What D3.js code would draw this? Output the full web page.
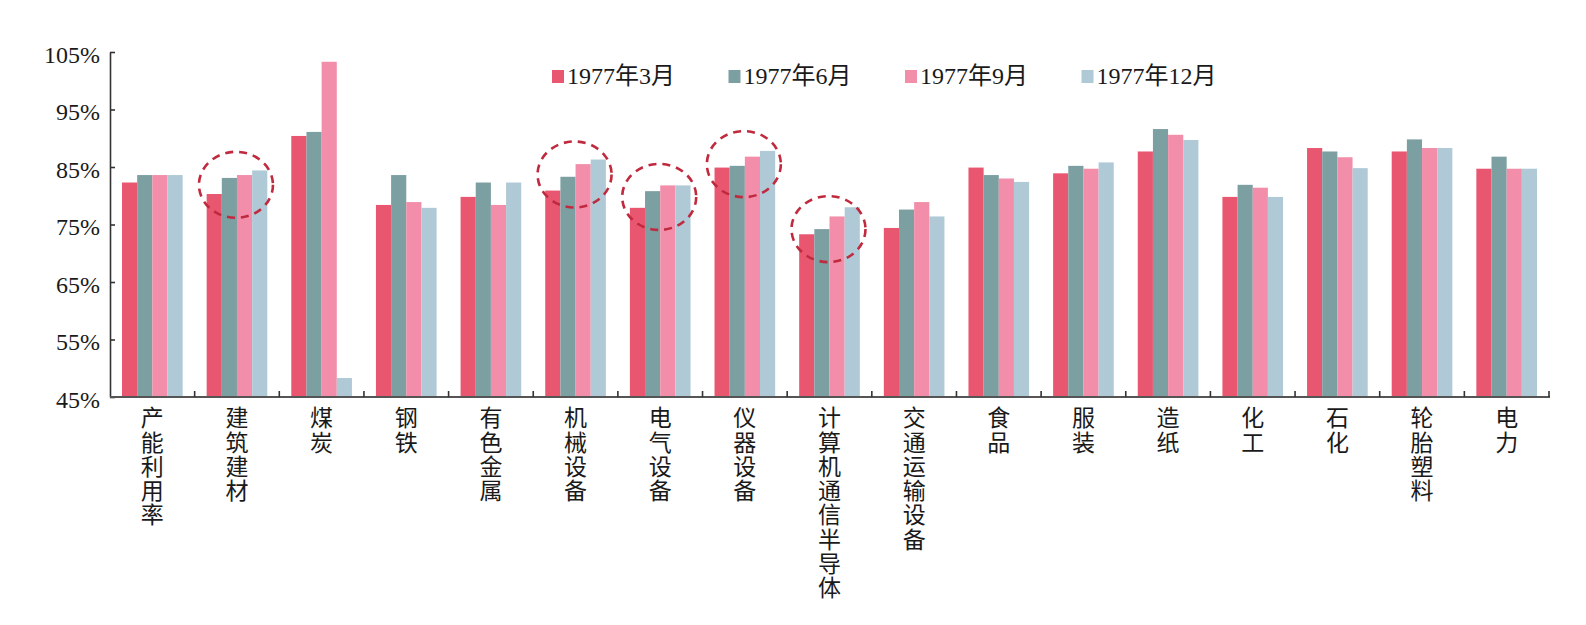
<!DOCTYPE html>
<html>
<head>
<meta charset="utf-8">
<script src="https://cdn.jsdelivr.net/npm/d3@7"></script>
<style>
  body { margin: 0; background: #fff; }
  text { font-family: "Liberation Serif", "Noto Sans CJK SC", serif; fill: #1a1a1a; }
</style>
</head>
<body>
<script>
// categories along the x axis
const categories = ["产能利用率", "建筑建材", "煤炭", "钢铁", "有色金属", "机械设备", "电气设备",
  "仪器设备", "计算机通信半导体", "交通运输设备", "食品", "服装", "造纸", "化工", "石化", "轮胎塑料", "电力"];

const seriesNames = ["1977年3月", "1977年6月", "1977年9月", "1977年12月"];
const seriesColors = ["#e9566f", "#7c9fa2", "#f28ea9", "#b0c9d7"];

// values (%)
const mar77 = [82.3, 80.3, 90.4, 78.4, 79.8, 80.9, 77.9, 84.9, 73.3, 74.4, 84.9, 83.9, 87.7, 79.8, 88.3, 87.7, 84.7];
const jun77 = [83.6, 83.1, 91.1, 83.6, 82.3, 83.3, 80.8, 85.2, 74.2, 77.6, 83.6, 85.2, 91.6, 81.9, 87.7, 89.8, 86.8];
const sep77 = [83.6, 83.6, 103.3, 78.9, 78.4, 85.5, 81.8, 86.8, 76.4, 78.9, 83.0, 84.7, 90.6, 81.4, 86.7, 88.3, 84.7];
const dec77 = [83.6, 84.4, 48.3, 77.9, 82.3, 86.3, 81.8, 87.8, 78.0, 76.4, 82.4, 85.8, 89.7, 79.8, 84.8, 88.3, 84.7];

const yTicks = [45, 55, 65, 75, 85, 95, 105];

// dashed ellipses: category and the value at their centre
const markedCats = ["建筑建材", "机械设备", "电气设备", "仪器设备", "计算机通信半导体"];
const markedCentres = [81.9, 83.7, 79.8, 85.5, 74.2];

const allSeries = [mar77, jun77, sep77, dec77];

const svg = d3.select("body").append("svg")
  .attr("width", 1586)
  .attr("height", 625);

const x = d3.scaleBand().domain(categories).range([110, 1549]);
const x1 = d3.scaleBand().domain(seriesNames).range([12, x.bandwidth() - 12]);
const y = d3.scaleLinear().domain([45, 105]).range([397, 52]);

// bars
const groups = svg.append("g").selectAll("g")
  .data(categories)
  .join("g")
  .attr("transform", d => `translate(${x(d)},0)`);

groups.selectAll("rect")
  .data((c, i) => seriesNames.map((s, k) => ({ s, k, v: allSeries[k][i] })))
  .join("rect")
  .attr("x", d => x1(d.s))
  .attr("width", x1.bandwidth())
  .attr("y", d => y(d.v))
  .attr("height", d => y(45) - y(d.v))
  .attr("fill", d => seriesColors[d.k]);

// y axis
const yAxis = svg.append("g")
  .attr("transform", "translate(110,0)")
  .call(d3.axisLeft(y).tickValues(yTicks).tickFormat(d => d + "%").tickSize(-5).tickSizeOuter(0).tickPadding(10));
yAxis.select(".domain").attr("stroke", "#333").attr("stroke-width", 1.6);
yAxis.selectAll(".tick line").attr("stroke", "#333").attr("stroke-width", 1.6);
yAxis.selectAll("text")
  .attr("font-size", 24)
  .attr("dy", "0.42em")
  .style("font-family", "Liberation Serif")
  .attr("fill", "#1a1a1a");

// x axis line + boundary ticks
svg.append("line")
  .attr("x1", 110).attr("x2", x.range()[1] + 1)
  .attr("y1", y(45)).attr("y2", y(45))
  .attr("stroke", "#555").attr("stroke-width", 1.8);

svg.append("g").selectAll("line")
  .data(categories)
  .join("line")
  .attr("x1", d => x(d) + x.bandwidth())
  .attr("x2", d => x(d) + x.bandwidth())
  .attr("y1", y(45))
  .attr("y2", y(45) - 6)
  .attr("stroke", "#333")
  .attr("stroke-width", 1.6);

// vertical category labels
svg.append("g").selectAll("text")
  .data(categories)
  .join("text")
  .attr("x", d => x(d) + x.bandwidth() / 2)
  .attr("y", 406)
  .attr("font-size", 23)
  .style("font-family", "Noto Sans CJK SC")
  .style("writing-mode", "vertical-rl")
  .style("letter-spacing", "1.3px")
  .text(d => d);

// legend
const legend = svg.append("g").selectAll("g")
  .data(seriesNames)
  .join("g")
  .attr("transform", (d, i) => `translate(${552 + i * 176.5},70)`);

legend.append("rect")
  .attr("width", 12)
  .attr("height", 13)
  .attr("fill", (d, i) => seriesColors[i]);

legend.append("text")
  .attr("x", 15)
  .attr("y", 14)
  .attr("font-size", 24)
  .text(d => d);

// dashed ellipses
svg.append("g").selectAll("ellipse")
  .data(markedCats)
  .join("ellipse")
  .attr("cx", d => x(d) + x.bandwidth() / 2 - 1)
  .attr("cy", (d, i) => y(markedCentres[i]))
  .attr("rx", 37)
  .attr("ry", 33)
  .attr("fill", "none")
  .attr("stroke", "#c02a3e")
  .attr("stroke-width", 2.6)
  .attr("stroke-dasharray", "8,6");
</script>
</body>
</html>
